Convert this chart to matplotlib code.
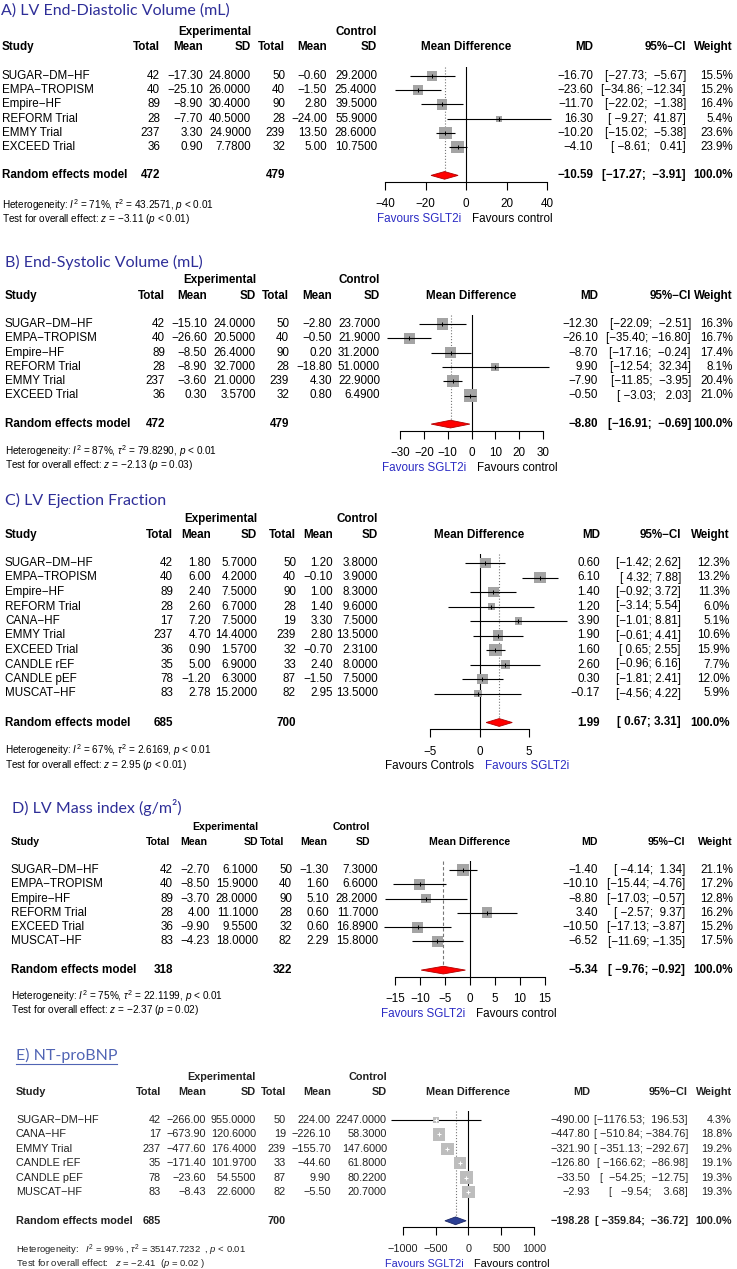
import matplotlib
matplotlib.use("Agg")
import matplotlib.pyplot as plt
from matplotlib.patches import Polygon
import numpy as np

plt.rcParams['font.family'] = ['Liberation Sans', 'DejaVu Sans']
plt.rcParams['mathtext.fontset'] = 'custom'
plt.rcParams['mathtext.rm'] = 'Liberation Sans'
plt.rcParams['mathtext.it'] = 'Liberation Sans:italic'
plt.rcParams['mathtext.bf'] = 'Liberation Sans:bold'

# ---------------- data ----------------
# A) LV end-diastolic volume
edv_studies = ['SUGAR−DM−HF', 'EMPA−TROPISM', 'Empire−HF', 'REFORM Trial', 'EMMY Trial', 'EXCEED Trial']
edv_n_e = [42, 40, 89, 28, 237, 36]
edv_mean_e = [-17.30, -25.10, -8.90, -7.70, 3.30, 0.90]
edv_sd_e = [24.8, 26.0, 30.4, 40.5, 24.9, 7.78]
edv_n_c = [50, 40, 90, 28, 239, 32]
edv_mean_c = [-0.60, -1.50, 2.80, -24.00, 13.50, 5.00]
edv_sd_c = [29.2, 25.4, 39.5, 55.9, 28.6, 10.75]
edv_md = [-16.70, -23.60, -11.70, 16.30, -10.20, -4.10]
edv_lo = [-27.73, -34.86, -22.02, -9.27, -15.02, -8.61]
edv_hi = [-5.67, -12.34, -1.38, 41.87, -5.38, 0.41]
edv_w = [15.5, 15.2, 16.4, 5.4, 23.6, 23.9]
edv_pool = [-10.59, -17.27, -3.91]
edv_tot = [472, 479]
edv_ticks = [-40, -20, 0, 20, 40]

# B) end-systolic volume
esv_studies = ['SUGAR−DM−HF', 'EMPA−TROPISM', 'Empire−HF', 'REFORM Trial', 'EMMY Trial', 'EXCEED Trial']
esv_n_e = [42, 40, 89, 28, 237, 36]
esv_mean_e = [-15.10, -26.60, -8.50, -8.90, -3.60, 0.30]
esv_sd_e = [24.0, 20.5, 26.4, 32.7, 21.0, 3.57]
esv_n_c = [50, 40, 90, 28, 239, 32]
esv_mean_c = [-2.80, -0.50, 0.20, -18.80, 4.30, 0.80]
esv_sd_c = [23.7, 21.9, 31.2, 51.0, 22.9, 6.49]
esv_md = [-12.30, -26.10, -8.70, 9.90, -7.90, -0.50]
esv_lo = [-22.09, -35.40, -17.16, -12.54, -11.85, -3.03]
esv_hi = [-2.51, -16.80, -0.24, 32.34, -3.95, 2.03]
esv_w = [16.3, 16.7, 17.4, 8.1, 20.4, 21.0]
esv_pool = [-8.80, -16.91, -0.69]
esv_tot = [472, 479]
esv_ticks = [-30, -20, -10, 0, 10, 20, 30]

# C) LV ejection fraction
ef_studies = ['SUGAR−DM−HF', 'EMPA−TROPISM', 'Empire−HF', 'REFORM Trial', 'CANA−HF',
              'EMMY Trial', 'EXCEED Trial', 'CANDLE rEF', 'CANDLE pEF', 'MUSCAT−HF']
ef_n_e = [42, 40, 89, 28, 17, 237, 36, 35, 78, 83]
ef_mean_e = [1.80, 6.00, 2.40, 2.60, 7.20, 4.70, 0.90, 5.00, -1.20, 2.78]
ef_sd_e = [5.7, 4.2, 7.5, 6.7, 7.5, 14.4, 1.57, 6.9, 6.3, 15.2]
ef_n_c = [50, 40, 90, 28, 19, 239, 32, 33, 87, 82]
ef_mean_c = [1.20, -0.10, 1.00, 1.40, 3.30, 2.80, -0.70, 2.40, -1.50, 2.95]
ef_sd_c = [3.8, 3.9, 8.3, 9.6, 7.5, 13.5, 2.31, 8.0, 7.5, 13.5]
ef_md = [0.60, 6.10, 1.40, 1.20, 3.90, 1.90, 1.60, 2.60, 0.30, -0.17]
ef_lo = [-1.42, 4.32, -0.92, -3.14, -1.01, -0.61, 0.65, -0.96, -1.81, -4.56]
ef_hi = [2.62, 7.88, 3.72, 5.54, 8.81, 4.41, 2.55, 6.16, 2.41, 4.22]
ef_w = [12.3, 13.2, 11.3, 6.0, 5.1, 10.6, 15.9, 7.7, 12.0, 5.9]
ef_pool = [1.99, 0.67, 3.31]
ef_tot = [685, 700]
ef_ticks = [-5, 0, 5]

# D) LV mass index
lvm_studies = ['SUGAR−DM−HF', 'EMPA−TROPISM', 'Empire−HF', 'REFORM Trial', 'EXCEED Trial', 'MUSCAT−HF']
lvm_n_e = [42, 40, 89, 28, 36, 83]
lvm_mean_e = [-2.70, -8.50, -3.70, 4.00, -9.90, -4.23]
lvm_sd_e = [6.1, 15.9, 28.0, 11.1, 9.55, 18.0]
lvm_n_c = [50, 40, 90, 28, 32, 82]
lvm_mean_c = [-1.30, 1.60, 5.10, 0.60, 0.60, 2.29]
lvm_sd_c = [7.3, 6.6, 28.2, 11.7, 16.89, 15.8]
lvm_md = [-1.40, -10.10, -8.80, 3.40, -10.50, -6.52]
lvm_lo = [-4.14, -15.44, -17.03, -2.57, -17.13, -11.69]
lvm_hi = [1.34, -4.76, -0.57, 9.37, -3.87, -1.35]
lvm_w = [21.1, 17.2, 12.8, 16.2, 15.2, 17.5]
lvm_pool = [-5.34, -9.76, -0.92]
lvm_tot = [318, 322]
lvm_ticks = [-15, -10, -5, 0, 5, 10, 15]

# E) NT-proBNP
bnp_studies = ['SUGAR−DM−HF', 'CANA−HF', 'EMMY Trial', 'CANDLE rEF', 'CANDLE pEF', 'MUSCAT−HF']
bnp_n_e = [42, 17, 237, 35, 78, 83]
bnp_mean_e = [-266.00, -673.90, -477.60, -171.40, -23.60, -8.43]
bnp_sd_e = [955.0, 120.6, 176.4, 101.97, 54.55, 22.6]
bnp_n_c = [50, 19, 239, 33, 87, 82]
bnp_mean_c = [224.00, -226.10, -155.70, -44.60, 9.90, -5.50]
bnp_sd_c = [2247.0, 58.3, 147.6, 61.8, 80.22, 20.7]
bnp_md = [-490.00, -447.80, -321.90, -126.80, -33.50, -2.93]
bnp_lo = [-1176.53, -510.84, -351.13, -166.62, -54.25, -9.54]
bnp_hi = [196.53, -384.76, -292.67, -86.98, -12.75, 3.68]
bnp_w = [4.3, 18.8, 19.2, 19.1, 19.3, 19.3]
bnp_pool = [-198.28, -359.84, -36.72]
bnp_tot = [685, 700]
bnp_ticks = [-1000, -500, 0, 500, 1000]

W, H = 737, 1269
TITLE_BLUE = '#2e2e98'
FAV_BLUE = '#2b2bc4'

fig = plt.figure(figsize=(W / 100, H / 100), dpi=100)
bg = fig.add_axes([0, 0, 1, 1])
bg.set_xlim(0, W)
bg.set_ylim(H, 0)
bg.axis('off')


def m(s):
    return s.replace('-', '\u2212')


def ci_strings(lo, hi):
    los = [f'{v:.2f}' for v in lo]
    his = [f'{v:.2f}' for v in hi]
    wl = max(len(s) for s in los)
    wh = max(len(s) for s in his)
    return [m(f'[{a:>{wl}}; {b:>{wh}}]') for a, b in zip(los, his)]


def draw_panel(p):
    L = p['layout']
    n = len(p['studies'])
    fs = L['fs']
    x0 = L['x0']
    c = L['cols']
    fx0, fx1 = L['fx']
    xmin, xmax = p['ticks'][0], p['ticks'][-1]
    dy = L['dy']
    rows_y = [L['y0'] + i * dy for i in range(n)]
    pool_y = L['y0'] + (n + 1) * dy
    axis_y = L['y0'] + (n + 1 + 0.45) * dy
    top_y = L['y0'] - 0.6 * dy
    txt = dict(fontsize=fs, va='center', color=L.get('tc', 'black'))
    bold = dict(txt, weight='bold')
    hfs = L.get('hfs', fs)
    hbold = dict(bold, fontsize=hfs)

    # title
    t = bg.text(L['title_x'], L['title_y'], p['title'], fontfamily=['Lato', 'DejaVu Sans'],
                fontsize=11.5, color=L['title_color'], va='center', ha='left')
    if L.get('underline'):
        fig.canvas.draw()
        bb = t.get_window_extent().transformed(bg.transData.inverted())
        bg.plot([bb.x0, bb.x1], [bb.y0 + 1, bb.y0 + 1], color=L['title_color'], lw=0.8)

    # headers
    bg.text(L['hcols'][2], L['exp_y'], 'Experimental', ha='right', **hbold)
    bg.text(L['hcols'][5], L['exp_y'], 'Control', ha='right', **hbold)
    bg.text(x0, L['head_y'], 'Study', ha='left', **hbold)
    for lab, x in zip(['Total', 'Mean', 'SD', 'Total', 'Mean', 'SD'], L['hcols']):
        bg.text(x, L['head_y'], lab, ha='right', **hbold)
    bg.text((fx0 + fx1) / 2, L['head_y'], 'Mean Difference', ha='center', **hbold)
    bg.text(L['md_x'], L['head_y'], 'MD', ha='right', **hbold)
    bg.text(L['ci_x'], L['head_y'], m('95%-CI'), ha='right', **hbold)
    bg.text(L['w_x'], L['head_y'], 'Weight', ha='right', **hbold)

    # study rows
    cis = ci_strings(p['lo'] + [p['pool'][1]], p['hi'] + [p['pool'][2]])
    for i in range(n):
        y = rows_y[i]
        bg.text(x0, y, p['studies'][i], ha='left', **txt)
        vals = [str(p['n_e'][i]), m(f"{p['mean_e'][i]:.2f}"), f"{p['sd_e'][i]:.4f}",
                str(p['n_c'][i]), m(f"{p['mean_c'][i]:.2f}"), f"{p['sd_c'][i]:.4f}"]
        for v, x in zip(vals, c):
            bg.text(x, y, v, ha='right', **txt)
        bg.text(L['md_x'], y, m(f"{p['md'][i]:.2f}"), ha='right', **txt)
        bg.text(L['ci_x'], y, cis[i], ha='right', **txt)
        bg.text(L['w_x'], y, f"{p['w'][i]:.1f}%", ha='right', **txt)

    # pooled row
    bg.text(x0, pool_y, 'Random effects model', ha='left', **bold)
    bg.text(c[0], pool_y, str(p['tot'][0]), ha='right', **bold)
    bg.text(c[3], pool_y, str(p['tot'][1]), ha='right', **bold)
    bg.text(L['md_x'], pool_y, m(f"{p['pool'][0]:.2f}"), ha='right', **bold)
    bg.text(L['ci_x'], pool_y, cis[-1], ha='right', **bold)
    bg.text(L['w_x'], pool_y, '100.0%', ha='right', **bold)

    # heterogeneity (baseline aligned so the superscripts do not push the lines apart)
    hf = dict(fontsize=L.get('hetfs', 7.2), va='baseline', ha='left', color=L.get('tc', 'black'))
    bg.text(x0, L['het_y'] + 3, p['het'], **hf)
    bg.text(x0, L['het_y'] + 3 + L['het_dy'], p['test'], **hf)

    # forest axes
    ax = fig.add_axes([fx0 / W, 1 - axis_y / H, (fx1 - fx0) / W, (axis_y - top_y) / H])
    ax.set_xlim(xmin, xmax)
    ax.set_ylim(n + 1 + 0.45, -0.6)
    ax.patch.set_visible(False)
    for s in ['left', 'right', 'top']:
        ax.spines[s].set_visible(False)
    ax.spines['bottom'].set_bounds(xmin, xmax)
    ax.spines['bottom'].set_linewidth(0.8)
    ax.set_yticks([])
    ax.set_xticks(p['ticks'])
    ax.tick_params(axis='x', direction='out', length=6, width=0.8, pad=6, labelsize=fs,
                   labelcolor=L.get('tc', 'black'))

    yy = np.arange(n)
    w = np.array(p['w'])
    side_pt = 12.5 * np.sqrt(w / w.max()) * 0.72
    ax.axvline(0, color='black', lw=0.8, zorder=1)
    ax.vlines(p['pool'][0], -0.6, n + 1, color='#777777', linestyles=L.get('pool_ls', ':'), lw=0.8, zorder=1)
    if L.get('light'):
        ax.hlines(yy, p['lo'], p['hi'], color='black', lw=0.8, zorder=2, clip_on=False)
        ax.scatter(p['md'], yy, marker='s', s=side_pt ** 2, color='#bdbdbd', lw=0, zorder=3, clip_on=False)
        ax.scatter(p['md'], yy, marker='+', s=12, color='white', lw=0.7, zorder=4, clip_on=False)
    else:
        ax.scatter(p['md'], yy, marker='s', s=side_pt ** 2, color='#a4a4a4', lw=0, zorder=2, clip_on=False)
        ax.hlines(yy, p['lo'], p['hi'], color='black', lw=0.8, zorder=3, clip_on=False)
        ax.scatter(p['md'], yy, marker='|', s=10, color='black', lw=0.7, zorder=4, clip_on=False)
    pm, plo, phi = p['pool']
    yd = n + 1
    dia = Polygon([(plo, yd), (pm, yd - 0.27), (phi, yd), (pm, yd + 0.27)], closed=True,
                  facecolor=L['dia_fc'], edgecolor=L['dia_ec'], lw=0.6, zorder=3, clip_on=False)
    ax.add_patch(dia)

    # favours labels
    zero_px = fx0 + (0 - xmin) / (xmax - xmin) * (fx1 - fx0)
    fy = axis_y + 37
    bg.text(zero_px - 5, fy, p['fav'][0], ha='right', va='center', fontsize=fs,
            color=p['fav_col'][0])
    bg.text(zero_px + 6, fy, p['fav'][1], ha='left', va='center', fontsize=fs,
            color=p['fav_col'][1])


panels = [
    dict(title='A) LV End-Diastolic Volume (mL)', studies=edv_studies, n_e=edv_n_e, mean_e=edv_mean_e,
         sd_e=edv_sd_e, n_c=edv_n_c, mean_c=edv_mean_c, sd_c=edv_sd_c, md=edv_md, lo=edv_lo, hi=edv_hi,
         w=edv_w, pool=edv_pool, tot=edv_tot, ticks=edv_ticks,
         het=r'Heterogeneity: $I^2$ = 71%, $\tau^2$ = 43.2571, $p$ < 0.01',
         test=r'Test for overall effect: $z$ = −3.11 ($p$ < 0.01)',
         fav=['Favours SGLT2i', 'Favours control'], fav_col=[FAV_BLUE, 'black'],
         layout=dict(fs=8.4, x0=2, title_x=1, title_y=11, title_color=TITLE_BLUE, exp_y=32, head_y=47,
                     y0=76, dy=14.2, cols=(160, 203, 251, 285, 327, 377),
                     hcols=(160, 203, 251, 285, 327, 377), fx=(385, 547),
                     md_x=593, ci_x=686, w_x=733, het_y=206, het_dy=13,
                     dia_fc='#ff0000', dia_ec='#b00000')),
    dict(title='B) End-Systolic Volume (mL)', studies=esv_studies, n_e=esv_n_e, mean_e=esv_mean_e,
         sd_e=esv_sd_e, n_c=esv_n_c, mean_c=esv_mean_c, sd_c=esv_sd_c, md=esv_md, lo=esv_lo, hi=esv_hi,
         w=esv_w, pool=esv_pool, tot=esv_tot, ticks=esv_ticks,
         het=r'Heterogeneity: $I^2$ = 87%, $\tau^2$ = 79.8290, $p$ < 0.01',
         test=r'Test for overall effect: $z$ = −2.13 ($p$ = 0.03)',
         fav=['Favours SGLT2i', 'Favours control'], fav_col=[FAV_BLUE, 'black'],
         layout=dict(fs=8.4, x0=5, title_x=5, title_y=262, title_color=TITLE_BLUE, exp_y=280, head_y=296,
                     y0=324, dy=14.3, cols=(165, 207, 256, 289, 332, 380),
                     hcols=(165, 207, 256, 289, 332, 380), fx=(400, 543),
                     md_x=598, ci_x=691, w_x=733, het_y=452, het_dy=13,
                     dia_fc='#ff0000', dia_ec='#b00000')),
    dict(title='C) LV Ejection Fraction', studies=ef_studies, n_e=ef_n_e, mean_e=ef_mean_e,
         sd_e=ef_sd_e, n_c=ef_n_c, mean_c=ef_mean_c, sd_c=ef_sd_c, md=ef_md, lo=ef_lo, hi=ef_hi,
         w=ef_w, pool=ef_pool, tot=ef_tot, ticks=ef_ticks,
         het=r'Heterogeneity: $I^2$ = 67%, $\tau^2$ = 2.6169, $p$ < 0.01',
         test=r'Test for overall effect: $z$ = 2.95 ($p$ < 0.01)',
         fav=['Favours Controls', 'Favours SGLT2i'], fav_col=['black', FAV_BLUE],
         layout=dict(fs=8.4, x0=5, title_x=5, title_y=500, title_color=TITLE_BLUE, exp_y=519, head_y=535,
                     y0=563, dy=14.5, cols=(173, 211, 257, 296, 333, 378),
                     hcols=(173, 211, 257, 296, 333, 378), fx=(430, 529),
                     md_x=600, ci_x=681, w_x=730, het_y=751, het_dy=14,
                     dia_fc='#ff0000', dia_ec='#b00000')),
    dict(title='D) LV Mass index (g/m²)', studies=lvm_studies, n_e=lvm_n_e, mean_e=lvm_mean_e,
         sd_e=lvm_sd_e, n_c=lvm_n_c, mean_c=lvm_mean_c, sd_c=lvm_sd_c, md=lvm_md, lo=lvm_lo, hi=lvm_hi,
         w=lvm_w, pool=lvm_pool, tot=lvm_tot, ticks=lvm_ticks,
         het=r'Heterogeneity: $I^2$ = 75%, $\tau^2$ = 22.1199, $p$ < 0.01',
         test=r'Test for overall effect: $z$ = −2.37 ($p$ = 0.02)',
         fav=['Favours SGLT2i', 'Favours control'], fav_col=[FAV_BLUE, 'black'],
         layout=dict(fs=8.4, hfs=7.6, x0=11, title_x=12, title_y=808, title_color=TITLE_BLUE, exp_y=827,
                     head_y=842, y0=870, dy=14.3, cols=(173, 210, 258, 292, 329, 378),
                     hcols=(170, 207, 258, 284, 327, 370), fx=(395, 545),
                     md_x=598, ci_x=685, w_x=733, het_y=997, het_dy=13, pool_ls=(0, (3, 2)),
                     dia_fc='#ff0000', dia_ec='#b00000')),
    dict(title='E) NT-proBNP', studies=bnp_studies, n_e=bnp_n_e, mean_e=bnp_mean_e,
         sd_e=bnp_sd_e, n_c=bnp_n_c, mean_c=bnp_mean_c, sd_c=bnp_sd_c, md=bnp_md, lo=bnp_lo, hi=bnp_hi,
         w=bnp_w, pool=bnp_pool, tot=bnp_tot, ticks=bnp_ticks,
         het=r'Heterogeneity:   $I^2$ = 99% , $\tau^2$ = 35147.7232  , $p$ < 0.01',
         test=r'Test for overall effect:   $z$ = −2.41  ($p$ = 0.02 )',
         fav=['Favours SGLT2i', 'Favours control'], fav_col=[FAV_BLUE, 'black'],
         layout=dict(fs=7.8, hetfs=6.8, tc='#222222', x0=16, title_x=16, title_y=1055, title_color='#5064b4',
                     underline=True, exp_y=1077, head_y=1092,
                     y0=1120, dy=14.4, cols=(161, 206, 256, 286, 331, 387),
                     hcols=(161, 206, 256, 286, 331, 387), fx=(403, 534),
                     md_x=590, ci_x=688, w_x=732, het_y=1250, het_dy=13, light=True,
                     dia_fc='#2b3f94', dia_ec='#1a2766')),
]

for p in panels:
    draw_panel(p)

fig.savefig('out.png', dpi=100)
